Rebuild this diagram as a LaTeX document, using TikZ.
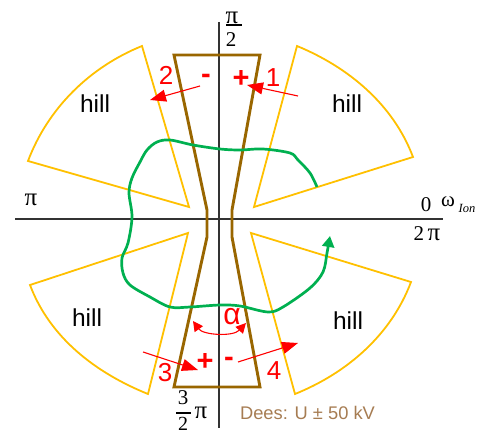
\documentclass[tikz,border=0pt]{standalone}
\usepackage{fontspec}
\setmainfont{Liberation Sans}
\newfontfamily\serif{Liberation Serif}
\usetikzlibrary{arrows.meta}
\definecolor{hillc}{HTML}{FFC000}
\definecolor{deec}{HTML}{996600}
\definecolor{orbitc}{HTML}{00B050}
\definecolor{deetext}{HTML}{A67C52}
\newcommand{\sz}[1]{\fontsize{#1}{#1}\selectfont}
\tikzset{
  hillarea/.style={draw=hillc,line width=1.8pt,line join=miter},
  dee/.style={draw=deec,line width=2.9pt,line join=miter},
  axis/.style={draw=black!80,line width=1.4pt},
  fracbar/.style={draw=black,line width=1.1pt},
  kick/.style={draw=red,line width=1.1pt,-{Triangle[length=16pt,width=12pt]}},
  redlabel/.style={text=red,inner sep=0pt,font=\sz{26}},
  signlabel/.style={text=red,inner sep=0pt,font=\bfseries\sz{29}},
  hilllabel/.style={inner sep=0pt,font=\sz{24.5}},
  mathlabel/.style={inner sep=0pt,font=\serif\sz{21}},
  pilabel/.style={inner sep=0pt,font=\serif\sz{25}}
}
\begin{document}
\begin{tikzpicture}[x=1pt,y=-1pt]
        \useasboundingbox (0,0) rectangle (477,433);

        \coordinate (TRa) at (254,207);
        \coordinate (TRb) at (413,157);
        \coordinate (TRc) at (297,46);
        \coordinate (TLa) at (189,207);
        \coordinate (TLb) at (28,161);
        \coordinate (TLc) at (142,46);
        \coordinate (BLa) at (188,233);
        \coordinate (BLb) at (30,285);
        \coordinate (BLc) at (148,394);
        \coordinate (BRa) at (251,233);
        \coordinate (BRb) at (411,282);
        \coordinate (BRc) at (295,394);

        % hills
        \draw[hillarea] (TRa) -- (TRb) .. controls (393,104) and (348,67) .. (TRc) -- cycle;
        \draw[hillarea] (TLa) -- (TLb) .. controls (48,108) and (90,67) .. (TLc) -- cycle;
        \draw[hillarea] (BLa) -- (BLb) .. controls (50,338) and (96,373) .. (BLc) -- cycle;
        \draw[hillarea] (BRa) -- (BRb) .. controls (391,335) and (347,373) .. (BRc) -- cycle;

        % axes
        \coordinate (W) at (15,219);
        \coordinate (E) at (443,219);
        \coordinate (N) at (219,22);
        \coordinate (S) at (219,428);
        \draw[axis] (W) -- (E);
        \draw[axis] (N) -- (S);

        % dees
        \draw[dee] (174,55) -- (260,55) -- (232,210) -- (232,237) -- (260,387)
            -- (174,387) -- (207,237) -- (207,210) -- cycle;

        % orbit
        \draw[draw=orbitc,line width=2.7pt,line join=round,-{Triangle[length=11pt,width=12pt]}]
            plot[smooth,tension=0.55] coordinates {(317,187) (310,173) (298,160) (290,153)
            (263,149) (240,150) (220,149) (193,145) (170,140) (157,142) (147,150) (140,162)
            (132,178) (129,193) (132,217) (128,243) (122,258) (123,273) (130,285) (150,297)
            (170,307) (190,307) (220,305) (240,306) (268,312) (283,307) (310,288) (323,272)
            (327,253) (330,236)};

        % kicks
        \coordinate (k1a) at (298,96);
        \coordinate (k1b) at (247,85);
        \coordinate (k2a) at (200,86);
        \coordinate (k2b) at (150,100);
        \coordinate (k3a) at (143,352);
        \coordinate (k3b) at (198,370);
        \coordinate (k4a) at (238,362);
        \coordinate (k4b) at (298,343);
        \draw[kick] (k1a) -- (k1b);
        \draw[kick] (k2a) -- (k2b);
        \draw[kick] (k3a) -- (k3b);
        \draw[kick] (k4a) -- (k4b);

        % opening angle
        \coordinate (ala) at (193,321);
        \coordinate (alb) at (246,323);
        \draw[draw=red,line width=1.1pt,{Triangle[length=10pt,width=10pt]}-{Triangle[length=10pt,width=10pt]}]
            (ala) .. controls (203,335) and (233,337) .. (alb);

        \node[redlabel] (one) at (273,78) {1};
        \node[redlabel] (two) at (166,75) {2};
        \node[redlabel] (three) at (165,373) {3};
        \node[redlabel] (four) at (274,371) {4};
        \node[signlabel] (pa) at (241,79) {+};
        \node[signlabel] (ma) at (206,79) {-};
        \node[signlabel] (pb) at (205,362) {+};
        \node[signlabel] (mb) at (229,362) {-};
        \node[redlabel,font=\sz{30}] (alpha) at (232,317) {α};

        \node[hilllabel] (h1) at (347,104) {hill};
        \node[hilllabel] (h2) at (95,104) {hill};
        \node[hilllabel] (h3) at (87,318) {hill};
        \node[hilllabel] (h4) at (348,321) {hill};

        % top fraction
        \node[pilabel] (topnum) at (232,18) {π};
        \node[mathlabel] (topden) at (231,40) {2};
        \coordinate (topbara) at (226,25);
        \coordinate (topbarb) at (242,25);
        \draw[fracbar] (topbara) -- (topbarb);

        \node[pilabel] (left) at (31,200) {π};

        % right fraction, its bar is the axis
        \node[mathlabel] (rightnum) at (426,205) {0};
        \node[mathlabel] (rightden) at (427,234) {2\,{\sz{25}π}};
        \node[mathlabel,font=\serif\sz{21}] (omega) at (448,202) {ω};
        \node[mathlabel,font=\serif\itshape\sz{12.5}] (ion) at (467,208) {Ion};

        % bottom fraction
        \node[mathlabel] (botnum) at (183,398) {3};
        \node[mathlabel,font=\serif\sz{20}] (botden) at (183,423.5) {2};
        \coordinate (botbara) at (176,413);
        \coordinate (botbarb) at (191,413);
        \draw[fracbar] (botbara) -- (botbarb);
        \node[pilabel] (botpi) at (201,413) {π};

        \node[text=deetext,inner sep=0pt,font=\sz{18.3}] (dees) at (307.5,413) {Dees: U ± 50 kV};
    \end{tikzpicture}
\end{document}
